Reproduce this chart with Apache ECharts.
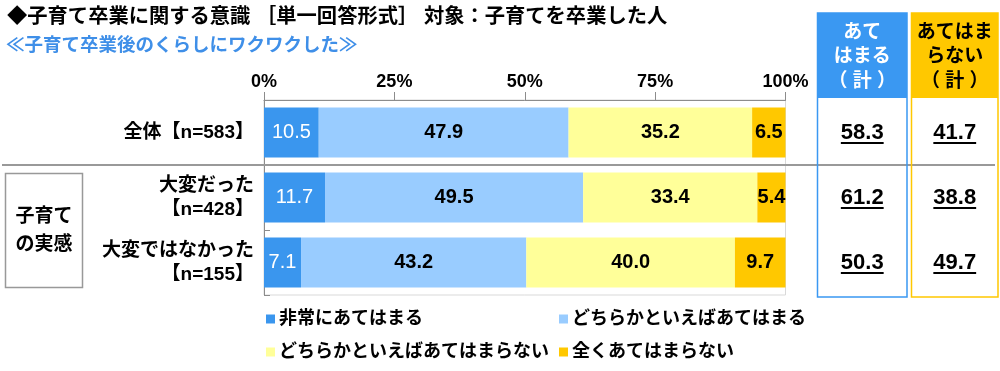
<!DOCTYPE html>
<html>
<head>
<meta charset="utf-8">
<script src="https://cdn.jsdelivr.net/npm/echarts@6/dist/echarts.min.js"></script>
<style>
html,body{margin:0;padding:0;background:#fff;}
#main{width:1000px;height:371px;}
</style>
</head>
<body>
<div id="main"></div>
<script>
const titleText = '◆子育て卒業に関する意識 ［単一回答形式］ 対象：子育てを卒業した人';
const subtitleText = '≪子育て卒業後のくらしにワクワクした≫';
const categories = ['全体【n=583】', '大変だった\n【n=428】', '大変ではなかった\n【n=155】'];
const seriesNames = ['非常にあてはまる', 'どちらかといえばあてはまる', 'どちらかといえばあてはまらない', '全くあてはまらない'];
const valVery = [10.5, 11.7, 7.1];
const valSomewhat = [47.9, 49.5, 43.2];
const valSomewhatNot = [35.2, 33.4, 40.0];
const valNot = [6.5, 5.4, 9.7];
const totalAgree = [58.3, 61.2, 50.3];
const totalDisagree = [41.7, 38.8, 49.7];
const headerAgree = 'あて\nはまる\n（ 計 ）';
const headerDisagree = 'あてはま\nらない\n（ 計 ）';
const groupLabel = '子育て\nの実感';
const axisMin = 0, axisMax = 100, axisInterval = 25;

const FONT = "'Liberation Sans','Noto Sans CJK JP',sans-serif";
const colors = ['#3A96EE', '#99CCFF', '#FFFF99', '#FFC800'];
const blueBox = '#3A98F2';
const yellowBox = '#FFC800';

const chart = echarts.init(document.getElementById('main'), null, {renderer: 'canvas'});

const seriesData = [valVery, valSomewhat, valSomewhatNot, valNot];
const series = seriesData.map((d, i) => ({
  name: seriesNames[i],
  type: 'bar',
  stack: 'total',
  barWidth: 50,
  data: d,
  itemStyle: {color: colors[i]},
  label: {
    show: true,
    position: 'inside',
    formatter: p => Number(p.value).toFixed(1),
    fontFamily: FONT,
    fontSize: 20,
    fontWeight: i === 0 ? 'normal' : 'bold',
    color: i === 0 ? '#ffffff' : '#000000'
  },
  emphasis: {disabled: true}
}));

const legendPos = [[266, 310], [559, 310], [266, 343], [559, 343]];
const legends = seriesNames.map((n, i) => ({
  data: [n],
  left: legendPos[i][0],
  top: legendPos[i][1],
  padding: 0,
  icon: 'rect',
  itemWidth: 9,
  itemHeight: 9,
  itemGap: 0,
  selectedMode: false,
  textStyle: {fontFamily: FONT, fontSize: 18, fontWeight: 'bold', color: '#000', padding: [0, 0, 0, -1]}
}));

chart.setOption({
  animation: false,
  backgroundColor: '#fff',
  grid: {left: 264, right: 214.5, top: 100, bottom: 76, show: true, borderColor: '#d9d9d9', borderWidth: 1, backgroundColor: 'transparent'},
  legend: legends,
  xAxis: {
    type: 'value',
    position: 'top',
    min: axisMin, max: axisMax, interval: axisInterval,
    axisLine: {show: true, lineStyle: {color: '#8c8c8c', width: 1}},
    axisTick: {show: true, inside: false, length: 8, lineStyle: {color: '#8c8c8c'}},
    splitLine: {show: false},
    axisLabel: {formatter: '{value}%', fontFamily: FONT, fontSize: 18, fontWeight: 'bold', color: '#000', margin: 9}
  },
  yAxis: {
    type: 'category',
    inverse: true,
    data: categories,
    axisLine: {show: true, lineStyle: {color: '#8c8c8c', width: 1}},
    axisTick: {show: true, inside: true, length: 6, lineStyle: {color: '#8c8c8c'}},
    axisLabel: {fontFamily: FONT, fontSize: 19, fontWeight: 'bold', color: '#000', margin: 10, lineHeight: 24, align: 'right'}
  },
  series: series
});

// measure helper
const mctx = document.createElement('canvas').getContext('2d');
function textW(t, size, weight) {
  mctx.font = weight + ' ' + size + 'px ' + FONT;
  return mctx.measureText(t).width;
}

function txt(text, x, y, size, weight, fill, align, lh) {
  return {
    type: 'text', silent: true, z: 100,
    style: {
      text: text, x: x, y: y, fill: fill,
      fontSize: size, fontWeight: weight, fontFamily: FONT,
      align: align || 'center', verticalAlign: 'middle',
      textAlign: align || 'center', textVerticalAlign: 'middle',
      lineHeight: lh || size
    }
  };
}

const cy = categories.map((c, i) => chart.convertToPixel({yAxisIndex: 0}, i));
const sepY = (cy[0] + cy[1]) / 2;

const boxTop = 13, boxBottom = 297, headBottom = 98;
const bx1 = 817.5, bx2 = 907, yx1 = 911.5, yx2 = 998;
const cxA = (bx1 + bx2) / 2, cxD = (yx1 + yx2) / 2;

const g = [];
g.push(txt(titleText, 7, 17, 20.3, 'bold', '#000', 'left'));
g.push(txt(subtitleText, 6, 46, 18.5, 'bold', '#3F8FE8', 'left'));

// separator line
g.push({type: 'line', silent: true, z: 90, shape: {x1: 2, y1: sepY, x2: 995, y2: sepY}, style: {stroke: '#999', lineWidth: 2}});

// group box
g.push({type: 'rect', silent: true, z: 90, shape: {x: 5.5, y: 173.5, width: 77, height: 114}, style: {fill: '#fff', stroke: '#999', lineWidth: 1.5}});
g.push(txt(groupLabel, 44, 231, 19, 'bold', '#000', 'center', 28));

// table headers
g.push({type: 'rect', silent: true, z: 80, shape: {x: bx1, y: boxTop, width: bx2 - bx1, height: headBottom - boxTop}, style: {fill: blueBox}});
g.push({type: 'rect', silent: true, z: 80, shape: {x: yx1, y: boxTop, width: yx2 - yx1, height: headBottom - boxTop}, style: {fill: yellowBox}});
g.push({type: 'rect', silent: true, z: 95, shape: {x: bx1, y: boxTop, width: bx2 - bx1, height: boxBottom - boxTop}, style: {fill: 'none', stroke: blueBox, lineWidth: 1.5}});
g.push({type: 'rect', silent: true, z: 95, shape: {x: yx1, y: boxTop, width: yx2 - yx1, height: boxBottom - boxTop}, style: {fill: 'none', stroke: yellowBox, lineWidth: 1.5}});
g.push(txt(headerAgree, cxA, 57, 19, 'bold', '#fff', 'center', 24.5));
g.push(txt(headerDisagree, cxD, 57, 19, 'bold', '#000', 'center', 24.5));

// table values with underline
function valueCell(v, cx, y) {
  const s = v.toFixed(1);
  const w = textW(s, 22, 'bold');
  g.push(txt(s, cx, y, 22, 'bold', '#000', 'center'));
  g.push({type: 'line', silent: true, z: 100, shape: {x1: cx - w / 2, y1: y + 10.5, x2: cx + w / 2, y2: y + 10.5}, style: {stroke: '#000', lineWidth: 1.8}});
}
cy.forEach((y, i) => {
  valueCell(totalAgree[i], cxA, y);
  valueCell(totalDisagree[i], cxD, y);
});

chart.setOption({graphic: {elements: g}});
</script>
</body>
</html>
